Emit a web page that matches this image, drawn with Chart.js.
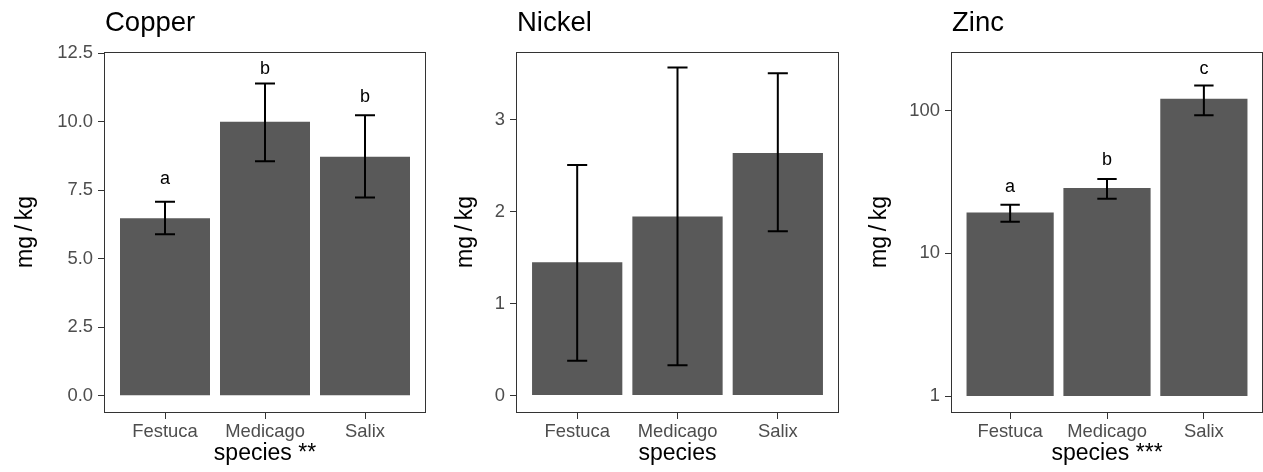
<!DOCTYPE html>
<html>
<head>
<meta charset="utf-8">
<script src="https://cdn.jsdelivr.net/npm/chart.js@4.4.1/dist/chart.umd.min.js"></script>
<style>
    body { margin: 0; background: #fff; width: 1263px; height: 472px; position: relative; overflow: hidden; }
    .panel { position: absolute; top: 0; height: 472px; }
</style>
</head>
<body>
<div class="panel" style="left:0;width:440px"><canvas id="copper"></canvas></div>
<div class="panel" style="left:440px;width:420px"><canvas id="nickel"></canvas></div>
<div class="panel" style="left:854px;width:409px"><canvas id="zinc"></canvas></div>
<script>
var species = ['Festuca', 'Medicago', 'Salix'];

var copperMean = [6.48, 10.0, 8.73];
var copperLow = [5.90, 8.56, 7.24];
var copperHigh = [7.08, 11.40, 10.24];
var copperLetters = ['a', 'b', 'b'];
var copperLetterY = [7.92, 11.93, 10.92];
var copperTicks = [0, 2.5, 5, 7.5, 10, 12.5];

var nickelMean = [1.45, 1.95, 2.64];
var nickelLow = [0.38, 0.33, 1.79];
var nickelHigh = [2.51, 3.57, 3.51];
var nickelTicks = [0, 1, 2, 3];

var zincMean = [19.3, 28.7, 121];
var zincLow = [16.6, 24.1, 92.7];
var zincHigh = [21.9, 33.2, 150];
var zincLetters = ['a', 'b', 'c'];
var zincLetterY = [29.2, 45, 196];
var zincTicks = [1, 10, 100];

var FONT = "'Liberation Sans', Arial, sans-serif";
var Y_LABEL = 'mg\u2009/\u2009kg';

function makePanel(id, cfg) {
    var ctx = document.getElementById(id).getContext('2d');
    var isLog = cfg.log;
    // log panel: bars start at 1, like ggplot does on a log10 axis
    var points = species.map(function(s, i) {
        return { x: i + 1, y: isLog ? [1, cfg.mean[i]] : cfg.mean[i] };
    });

    var extras = {
        id: 'extras_' + id,
        afterDatasetsDraw: function(chart) {
            var c = chart.ctx, xs = chart.scales.x, ys = chart.scales.y;
            c.save();
            c.strokeStyle = '#000';
            c.lineWidth = 2;
            species.forEach(function(s, i) {
                var x = xs.getPixelForValue(i + 1);
                var hw = xs.getPixelForValue(i + 1.1) - x;
                var y1 = ys.getPixelForValue(cfg.low[i]);
                var y2 = ys.getPixelForValue(cfg.high[i]);
                c.beginPath();
                c.moveTo(x, y1); c.lineTo(x, y2);
                c.moveTo(x - hw, y1); c.lineTo(x + hw, y1);
                c.moveTo(x - hw, y2); c.lineTo(x + hw, y2);
                c.stroke();
            });
            if (cfg.letters) {
                c.fillStyle = '#000';
                c.font = '18px ' + FONT;
                c.textAlign = 'center';
                c.textBaseline = 'middle';
                cfg.letters.forEach(function(l, i) {
                    c.fillText(l, xs.getPixelForValue(i + 1), ys.getPixelForValue(cfg.letterY[i]));
                });
            }
            // panel border
            var a = chart.chartArea;
            c.strokeStyle = '#333333';
            c.lineWidth = 1;
            c.strokeRect(Math.round(a.left) - 0.5, Math.round(a.top) + 0.5,
                Math.round(a.right - a.left) + 1, Math.round(a.bottom - a.top));
            c.restore();
        }
    };

    return new Chart(ctx, {
        type: 'bar',
        data: {
            datasets: [{
                data: points,
                backgroundColor: '#595959',
                borderWidth: 0,
                barPercentage: 0.9,
                categoryPercentage: 1.0
            }]
        },
        options: {
            responsive: true,
            maintainAspectRatio: false,
            animation: false,
            layout: { padding: { left: 0, right: cfg.rightPad, top: 0, bottom: 0 } },
            plugins: {
                legend: { display: false },
                tooltip: { enabled: false },
                title: {
                    display: true,
                    text: cfg.title,
                    align: 'start',
                    fullSize: false,
                    color: '#000',
                    font: { family: FONT, size: 27.5, weight: 'normal' },
                    padding: { top: 7, bottom: 12 }
                }
            },
            scales: {
                x: {
                    type: 'linear',
                    min: 0.4,
                    max: 3.6,
                    offset: false,
                    grid: { display: true, drawOnChartArea: false, offset: false, tickLength: 7, tickColor: '#333333' },
                    border: { display: false },
                    afterBuildTicks: function(scale) {
                        scale.ticks = [1, 2, 3].map(function(v) { return { value: v }; });
                    },
                    afterFit: function(scale) { scale.height = 60; },
                    ticks: {
                        color: '#4D4D4D',
                        padding: 2,
                        maxRotation: 0,
                        font: { family: FONT, size: 18.4 },
                        callback: function(v) { return species[v - 1]; }
                    },
                    title: {
                        display: true,
                        text: cfg.xTitle,
                        color: '#000',
                        font: { family: FONT, size: 23 },
                        padding: { top: 0, bottom: 5 }
                    }
                },
                y: {
                    type: isLog ? 'logarithmic' : 'linear',
                    min: cfg.yMin,
                    max: cfg.yMax,
                    grid: { display: true, drawOnChartArea: false, tickLength: 7, tickColor: '#333333' },
                    border: { display: false },
                    afterBuildTicks: function(scale) {
                        scale.ticks = cfg.ticks.map(function(v) { return { value: v }; });
                    },
                    afterFit: function(scale) { scale.width = cfg.yWidth; },
                    ticks: {
                        color: '#4D4D4D',
                        padding: 5,
                        font: { family: FONT, size: 18.4 },
                        callback: cfg.fmt
                    },
                    title: {
                        display: true,
                        text: Y_LABEL,
                        color: '#000',
                        font: { family: FONT, size: 23 },
                        padding: { top: 12, bottom: 0 }
                    }
                }
            }
        },
        plugins: [extras]
    });
}

makePanel('copper', {
    title: 'Copper', xTitle: 'species **',
    mean: copperMean, low: copperLow, high: copperHigh,
    letters: copperLetters, letterY: copperLetterY,
    ticks: copperTicks, yMin: -0.59, yMax: 12.55,
    yWidth: 105, rightPad: 15,
    fmt: function(v) { return Number(v).toFixed(1); }
});

makePanel('nickel', {
    title: 'Nickel', xTitle: 'species',
    mean: nickelMean, low: nickelLow, high: nickelHigh,
    ticks: nickelTicks, yMin: -0.179, yMax: 3.74,
    yWidth: 77, rightPad: 22,
    fmt: function(v) { return String(v); }
});

makePanel('zinc', {
    title: 'Zinc', xTitle: 'species ***', log: true,
    mean: zincMean, low: zincLow, high: zincHigh,
    letters: zincLetters, letterY: zincLetterY,
    ticks: zincTicks, yMin: 0.773, yMax: 257,
    yWidth: 98, rightPad: 1,
    fmt: function(v) { return String(v); }
});
</script>
</body>
</html>
